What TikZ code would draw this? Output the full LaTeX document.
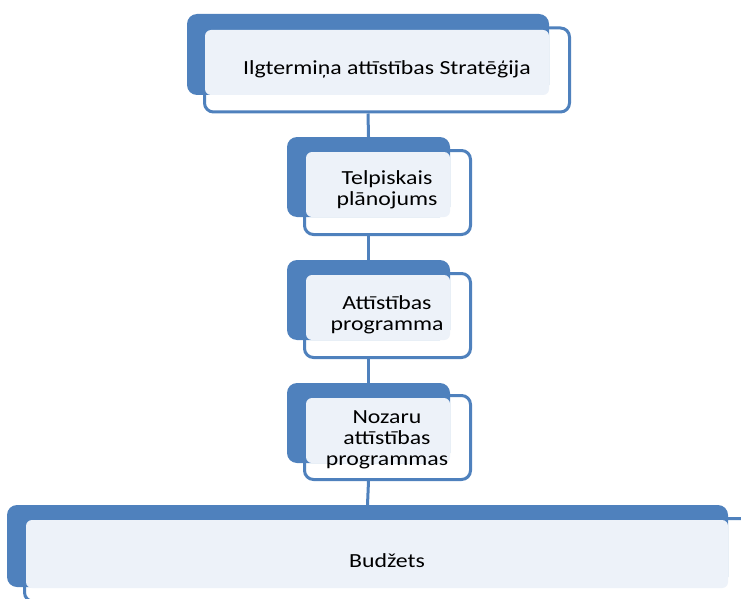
\documentclass[tikz,border=0pt]{standalone}
\usepackage{fontspec}
\setmainfont{Carlito}[FakeStretch=1.19]
\usetikzlibrary{positioning}
\definecolor{tabblue}{HTML}{4F81BD}
\definecolor{facefill}{HTML}{EDF2F9}

\begin{document}
\begin{tikzpicture}[x=1pt,y=-1pt]
            \useasboundingbox (0,0) rectangle (741,599);
            \clip (0,0) rectangle (741,599);

            \tikzstyle{O}=[rectangle,inner sep=0pt,rounded corners=9pt,draw=tabblue,line width=3pt,fill=white]  % outline
            \tikzstyle{B}=[rectangle,inner sep=0pt,rounded corners=10pt,fill=tabblue]  % blue tab
            \tikzstyle{F}=[rectangle,inner sep=0pt,rounded corners=6pt,fill=facefill]  % light face
            \tikzstyle{T}=[align=center,inner sep=0pt,font=\fontsize{20}{21}\selectfont]

            \tikzstyle{every edge}=[draw=tabblue,line width=3pt]

            % level 1
            \node[O,minimum width=365pt,minimum height=84pt] (1o) at (387,70) {};
            \node[B,minimum width=362pt,minimum height=81pt] (1b) at (368,54.5) {};
            \node[F,minimum width=344pt,minimum height=65pt] (1f) at (377,62.5) {};
            \node[T] (1t) at (387,69) {Ilgtermiņa attīstības Stratēģija};

            % level 2
            \node[O,minimum width=166pt,minimum height=84pt] (2o) at (387.5,192.5) {};
            \node[B,minimum width=163pt,minimum height=80pt] (2b) at (368.5,177) {};
            \node[F,minimum width=144pt,minimum height=65pt] (2f) at (378,184.5) {};
            \node[T] (2t) at (387,190) {Telpiskais\\plānojums};

            % level 3
            \node[O,minimum width=166pt,minimum height=84pt] (3o) at (387.5,315.5) {};
            \node[B,minimum width=163pt,minimum height=80pt] (3b) at (368.5,300) {};
            \node[F,minimum width=144pt,minimum height=65pt] (3f) at (378,307.5) {};
            \node[T] (3t) at (387,315) {Attīstības\\programma};

            % level 4
            \node[O,minimum width=166pt,minimum height=84pt] (4o) at (387.5,437.5) {};
            \node[B,minimum width=163pt,minimum height=80pt] (4b) at (368.5,423) {};
            \node[F,minimum width=144pt,minimum height=65pt] (4f) at (378,430.5) {};
            \node[T] (4t) at (387,440) {Nozaru\\attīstības\\programmas};

            % level 5
            \node[O,minimum width=725pt,minimum height=83pt] (5o) at (387,560) {};
            \node[B,minimum width=721pt,minimum height=82pt] (5b) at (367.5,546) {};
            \node[F,minimum width=702pt,minimum height=68pt] (5f) at (377,554) {};
            \node[T] (5t) at (387,561) {Budžets};

            \path (1o.south -| 1b.south) edge (2b.north);
            \path (2o.south -| 2b.south) edge (3b.north);
            \path (3o.south -| 3b.south) edge (4b.north);
            \path (4o.south -| 4b.south) edge (5b.north);
\end{tikzpicture}
\end{document}
